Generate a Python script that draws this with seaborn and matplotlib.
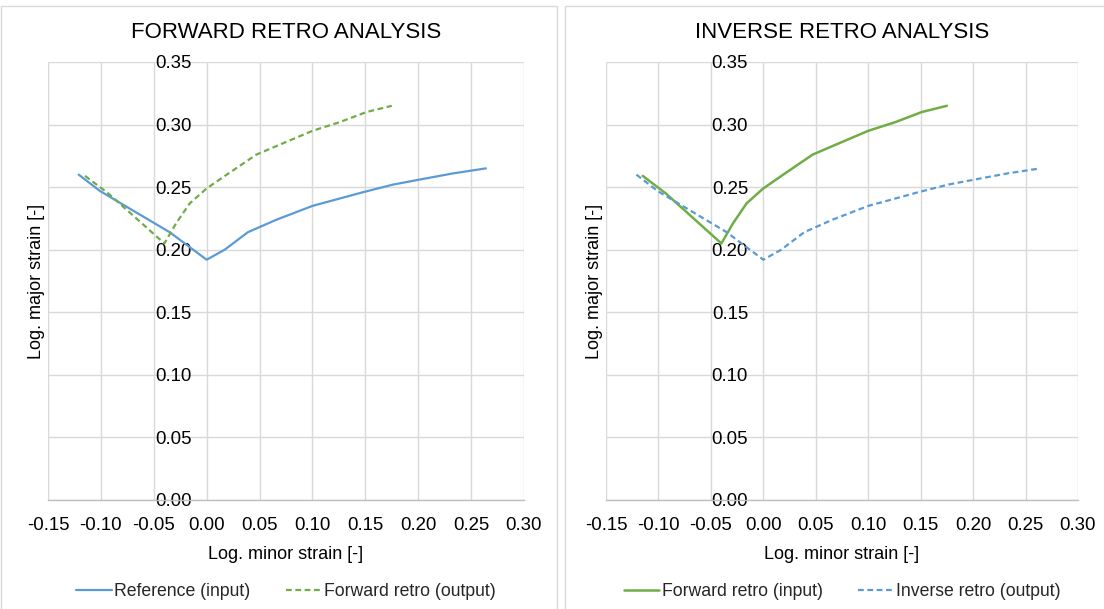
import matplotlib
matplotlib.use("Agg")
import matplotlib.pyplot as plt
import matplotlib.patches as mpatches
import seaborn as sns
import pandas as pd

# ---- data ----
ref_x = [-0.121, -0.101, -0.035, 0.0, 0.017, 0.039, 0.066, 0.100, 0.148, 0.176, 0.201, 0.233, 0.264]
ref_y = [0.260, 0.247, 0.214, 0.192, 0.200, 0.214, 0.224, 0.235, 0.246, 0.252, 0.256, 0.261, 0.265]
fwd_x = [-0.115, -0.093, -0.040, -0.029, -0.016, 0.0, 0.019, 0.047, 0.072, 0.100, 0.126, 0.151, 0.175]
fwd_y = [0.259, 0.245, 0.205, 0.221, 0.237, 0.249, 0.260, 0.276, 0.285, 0.295, 0.302, 0.310, 0.315]

x_ticks = [-0.15, -0.10, -0.05, 0.00, 0.05, 0.10, 0.15, 0.20, 0.25, 0.30]
y_ticks = [0.00, 0.05, 0.10, 0.15, 0.20, 0.25, 0.30, 0.35]

titles = ["FORWARD RETRO ANALYSIS", "INVERSE RETRO ANALYSIS"]
x_label = "Log. minor strain [-]"
y_label = "Log. major strain [-]"

left_names = ["Reference (input)", "Forward retro (output)"]
right_names = ["Forward retro (input)", "Inverse retro (output)"]

BLUE = "#5B9BD5"
GREEN = "#70AD47"
DASH = (0, (2.6, 1.6))

sns.set_theme(style="white")
plt.rcParams['font.family'] = ['Liberation Sans', 'DejaVu Sans']

fig = plt.figure(figsize=(11.04, 6.09), dpi=100)

# chart frames
fig.patches.append(mpatches.Rectangle((0.5 / 1104, -0.05), 556 / 1104, 1.05 - 6 / 609,
                                      transform=fig.transFigure, fill=False,
                                      edgecolor="#d9d9d9", linewidth=1))
fig.patches.append(mpatches.Rectangle((565 / 1104, -0.05), 560 / 1104, 1.05 - 6 / 609,
                                      transform=fig.transFigure, fill=False,
                                      edgecolor="#d9d9d9", linewidth=1))

ax1 = fig.add_axes([48 / 1104, 1 - 500 / 609, 476 / 1104, 438 / 609])
ax2 = fig.add_axes([606 / 1104, 1 - 500 / 609, 472 / 1104, 438 / 609])

df_ref = pd.DataFrame({"x": ref_x, "y": ref_y})
df_fwd = pd.DataFrame({"x": fwd_x, "y": fwd_y})

# left panel
sns.lineplot(data=df_ref, x="x", y="y", ax=ax1, sort=False, estimator=None,
             color=BLUE, linewidth=1.6, label=left_names[0])
sns.lineplot(data=df_fwd, x="x", y="y", ax=ax1, sort=False, estimator=None,
             color=GREEN, linewidth=1.6, linestyle=DASH, label=left_names[1])

# right panel
sns.lineplot(data=df_fwd, x="x", y="y", ax=ax2, sort=False, estimator=None,
             color=GREEN, linewidth=1.8, label=right_names[0])
sns.lineplot(data=df_ref, x="x", y="y", ax=ax2, sort=False, estimator=None,
             color=BLUE, linewidth=1.6, linestyle=DASH, label=right_names[1])

for ax, title in zip([ax1, ax2], titles):
    for s in ["top", "right"]:
        ax.spines[s].set_visible(False)
    ax.spines["left"].set_position(("data", 0))
    ax.spines["left"].set_visible(False)
    ax.spines["bottom"].set_color("#bfbfbf")
    ax.spines["bottom"].set_linewidth(1)
    ax.set_xlim(-0.15, 0.30)
    ax.set_ylim(0.0, 0.35)
    ax.set_xticks(x_ticks)
    ax.set_yticks(y_ticks)
    ax.set_xticklabels([f"{v:.2f}" for v in x_ticks])
    ax.set_yticklabels([f"{v:.2f}" for v in y_ticks])
    ax.tick_params(axis="both", length=0, colors="#000000", labelsize=13.4)
    ax.tick_params(axis="x", pad=12)
    ax.tick_params(axis="y", pad=11)
    ax.grid(True, color="#d9d9d9", linewidth=1)
    ax.set_axisbelow(True)
    ax.set_title(title, fontsize=16, pad=17, color="#000000")
    ax.set_xlabel(x_label, fontsize=13, color="#000000", labelpad=9)
    ax.set_ylabel(y_label, fontsize=13, color="#000000")
    ax.yaxis.set_label_coords(-0.006, 0.5)
    ax.set_facecolor("white")
    ax.legend(loc="upper center", bbox_to_anchor=(0.5, -0.153), ncol=2, frameon=False,
              fontsize=12.7, handlelength=2.0, handletextpad=0.15, columnspacing=2.0)

fig.savefig("out.png", dpi=100, facecolor="white")
